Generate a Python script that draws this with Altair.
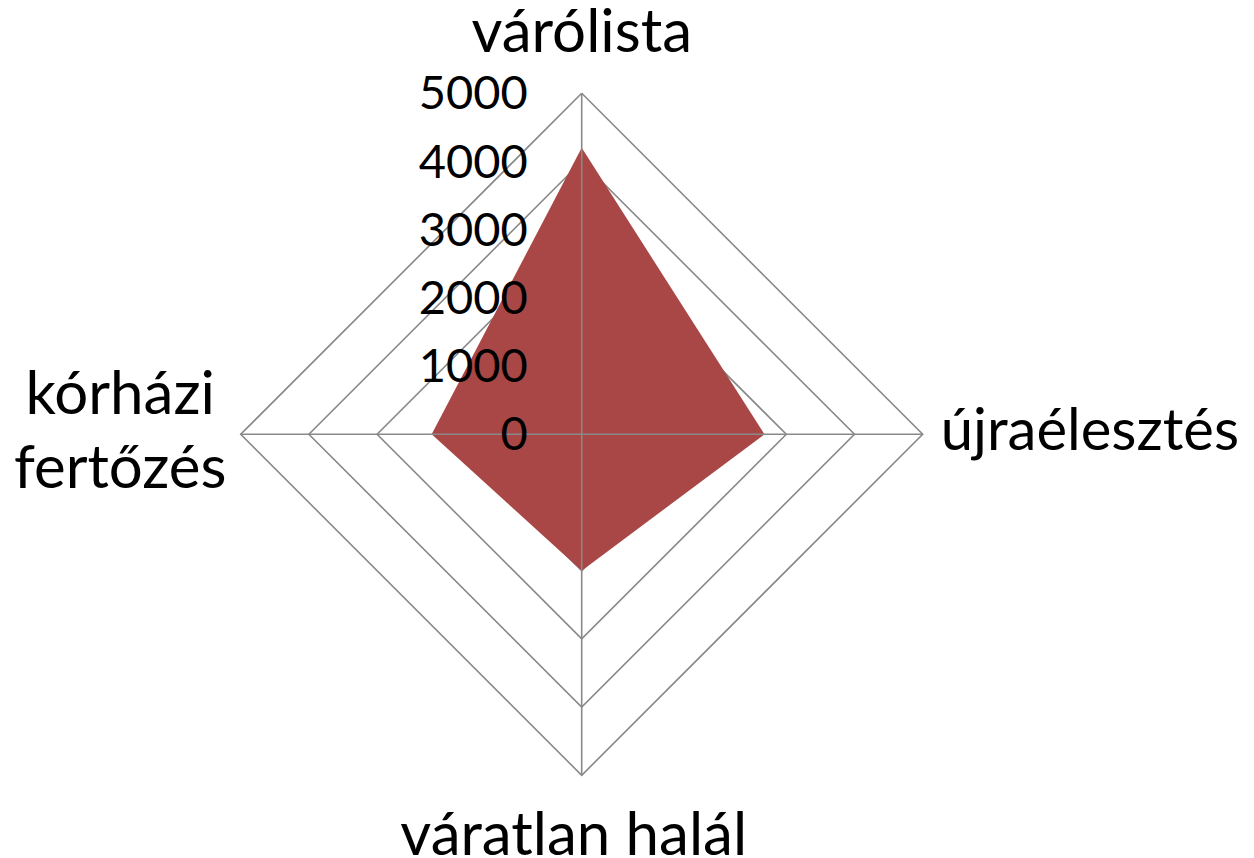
import altair as alt
import pandas as pd
import numpy as np

categories = ["várólista", "újraélesztés", "váratlan halál", "kórházi fertőzés"]
label_lines = ["várólista", "újraélesztés", "váratlan halál", "kórházi\nfertőzés"]
values = [4200, 2680, 2000, 2200]
ring_values = [1000, 2000, 3000, 4000, 5000]
tick_values = [0, 1000, 2000, 3000, 4000, 5000]
max_value = 5000

FILL = "#A84745"
GRID = "#898989"
FONT = "Lato"
FS_TICK = 47
FS_LAB = 60

# layout of the plot area (page window minus 8px margins)
W, H = 1238, 850
cx, cy = 573.7, 426.3
k = 0.0682  # px per unit

n = len(categories)
angles = [2 * np.pi * i / n for i in range(n)]
sx = [round(float(np.sin(a)), 9) for a in angles]
sy = [round(float(np.cos(a)), 9) for a in angles]

xscale = alt.Scale(domain=[-cx / k, (W - cx) / k], range=[0, W], nice=False, zero=False)
yscale = alt.Scale(domain=[-(H - cy) / k, cy / k], range=[H, 0], nice=False, zero=False)
X = lambda f: alt.X(f, type="quantitative", scale=xscale, axis=None)
Y = lambda f: alt.Y(f, type="quantitative", scale=yscale, axis=None)

# grid rings
ring_rows = []
for r in ring_values:
    for j in range(n + 1):
        ring_rows.append({"ring": r, "ord": j, "x": r * sx[j % n], "y": r * sy[j % n]})
rings = alt.Chart(pd.DataFrame(ring_rows)).mark_line(color=GRID, strokeWidth=1.6).encode(
    x=X("x"), y=Y("y"), detail="ring:N", order="ord:Q"
)

# data polygon (4 axes: left, top/bottom, right)
poly = pd.DataFrame({
    "x": [values[3] * sx[3], 0.0, values[1] * sx[1]],
    "y": [0.0, values[0] * sy[0], 0.0],
    "y2": [0.0, values[2] * sy[2], 0.0],
})
area = alt.Chart(poly).mark_area(color=FILL, opacity=1, interpolate="linear").encode(
    x=X("x"), y=Y("y"), y2="y2:Q"
)

# spokes
spk = pd.DataFrame({"x": [0.0] * n, "y": [0.0] * n,
                    "x2": [max_value * s for s in sx], "y2": [max_value * s for s in sy]})
spokes = alt.Chart(spk).mark_rule(color=GRID, strokeWidth=1.6).encode(
    x=X("x"), y=Y("y"), x2="x2:Q", y2="y2:Q"
)

# tick labels
ticks = alt.Chart(pd.DataFrame({"v": tick_values, "x": [0] * len(tick_values)})).mark_text(
    font=FONT, fontSize=FS_TICK, align="right", baseline="middle", dx=-54, dy=2, color="black"
).encode(x=X("x"), y=Y("v"), text="v:Q")

# category labels
lab = pd.DataFrame({"cat": label_lines,
                    "x": [max_value * s for s in sx], "y": [max_value * s for s in sy]})
specs = [
    dict(align="center", baseline="alphabetic", dx=0, dy=-41.5, fontSize=FS_LAB),
    dict(align="left", baseline="alphabetic", dx=18, dy=15.7, fontSize=FS_LAB - 2),
    dict(align="center", baseline="alphabetic", dx=-8, dy=79.5, fontSize=FS_LAB),
    dict(align="center", baseline="alphabetic", dx=-120.5, dy=-20.3, lineHeight=74, fontSize=FS_LAB),
]
label_layers = []
for i, sp in enumerate(specs):
    label_layers.append(
        alt.Chart(lab.iloc[[i]]).mark_text(font=FONT, color="black",
                                           lineBreak="\n", **sp).encode(
            x=X("x"), y=Y("y"), text="cat:N"
        )
    )

chart = alt.layer(rings, area, spokes, ticks, *label_layers).properties(
    width=W, height=H, padding=0, autosize=alt.AutoSizeParams(type="none")
).configure_view(strokeWidth=0)

chart.save("out.html", embed_options={"renderer": "svg", "actions": False})
